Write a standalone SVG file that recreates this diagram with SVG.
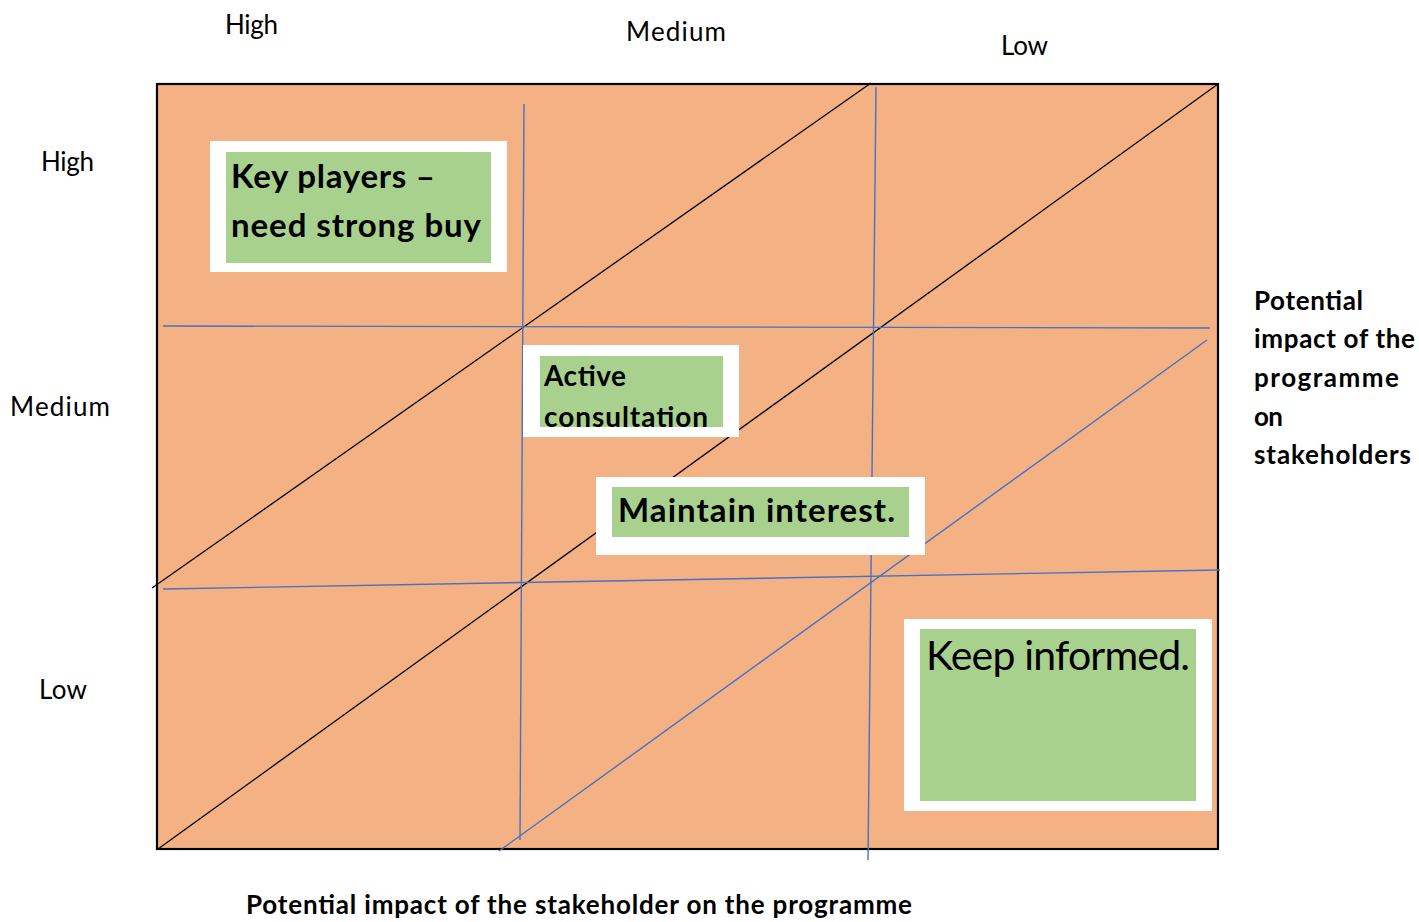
<svg xmlns="http://www.w3.org/2000/svg" width="1419" height="922" viewBox="0 0 1419 922">
  <defs>
    <style>
      .matrix { fill: #F4B183; stroke: #000000; stroke-width: 2.2; }
      .diag { stroke: #000000; stroke-width: 1.3; fill: none; }
      .grid { stroke: #4472C4; stroke-width: 1.4; fill: none; }
      .frame { fill: #FFFFFF; }
      .panel { fill: #A9D18E; }
      .axis { font-family: "Lato", "Open Sans", sans-serif; font-size: 26px; fill: #000000; }
      .title { font-family: "Lato", "Open Sans", sans-serif; font-size: 26px; font-weight: bold; fill: #000000; }
      .label { font-family: "Lato", "Open Sans", sans-serif; font-weight: bold; fill: #000000; }
      .plain { font-family: "Lato", "Open Sans", sans-serif; font-size: 41px; fill: #000000; }
    </style>
    <clipPath id="clip-active">
      <rect x="540" y="356" width="183" height="71"/>
    </clipPath>
  </defs>

  <!-- influence / impact matrix background -->
  <rect id="matrix" class="matrix" x="157" y="84" width="1061" height="765"/>

  <!-- band and grid lines -->
  <g id="connectors">
    <line class="diag" x1="152" y1="588" x2="871" y2="83"/>
    <line class="diag" x1="158" y1="849" x2="1218" y2="84"/>
    <line class="grid" x1="524" y1="104" x2="520" y2="840"/>
    <line class="grid" x1="876" y1="87" x2="868" y2="860"/>
    <line class="grid" x1="163" y1="326" x2="1210" y2="328"/>
    <line class="grid" x1="163" y1="589" x2="1220" y2="570"/>
    <line class="grid" x1="499" y1="851" x2="1207" y2="340"/>
  </g>

  <!-- quadrant labels -->
  <g id="key-players">
    <rect class="frame" x="210" y="141" width="297" height="131"/>
    <rect class="panel" x="226" y="152" width="265" height="111"/>
    <text class="label" font-size="33" x="231" y="188" textLength="204">Key players –</text>
    <text class="label" font-size="33" x="231" y="237" textLength="250">need strong buy</text>
  </g>

  <g id="active-consultation">
    <rect class="frame" x="523" y="345" width="216" height="92"/>
    <rect class="panel" x="540" y="356" width="183" height="71"/>
    <g clip-path="url(#clip-active)">
      <text class="label" font-size="28" x="544" y="386" textLength="82">Active</text>
      <text class="label" font-size="28" x="544" y="427" textLength="164">consultation</text>
    </g>
  </g>

  <g id="maintain-interest">
    <rect class="frame" x="596" y="477" width="329" height="78"/>
    <rect class="panel" x="612" y="487" width="297" height="50"/>
    <text class="label" font-size="33" x="618" y="522" textLength="277">Maintain interest.</text>
  </g>

  <g id="keep-informed">
    <rect class="frame" x="904" y="619" width="308" height="192"/>
    <rect class="panel" x="920" y="629" width="276" height="172"/>
    <text class="plain" x="926" y="670" textLength="264">Keep informed.</text>
  </g>

  <!-- axis captions -->
  <g id="axis-top">
    <text class="axis" x="225" y="34" textLength="53">High</text>
    <text class="axis" x="626" y="41" textLength="100">Medium</text>
    <text class="axis" x="1001" y="55" textLength="47">Low</text>
  </g>

  <g id="axis-left">
    <text class="axis" x="41" y="171" textLength="53">High</text>
    <text class="axis" x="10" y="416" textLength="100">Medium</text>
    <text class="axis" x="39" y="699" textLength="48">Low</text>
  </g>

  <g id="axis-right">
    <text class="title" x="1254" y="309.5" textLength="109">Potential</text>
    <text class="title" x="1254" y="348.2" textLength="161">impact of the</text>
    <text class="title" x="1254" y="386.9" textLength="145">programme</text>
    <text class="title" x="1254" y="425.6" textLength="29">on</text>
    <text class="title" x="1254" y="464.3" textLength="157">stakeholders</text>
  </g>

  <g id="axis-bottom">
    <text class="title" x="246" y="914" textLength="666">Potential impact of the stakeholder on the programme</text>
  </g>
</svg>
